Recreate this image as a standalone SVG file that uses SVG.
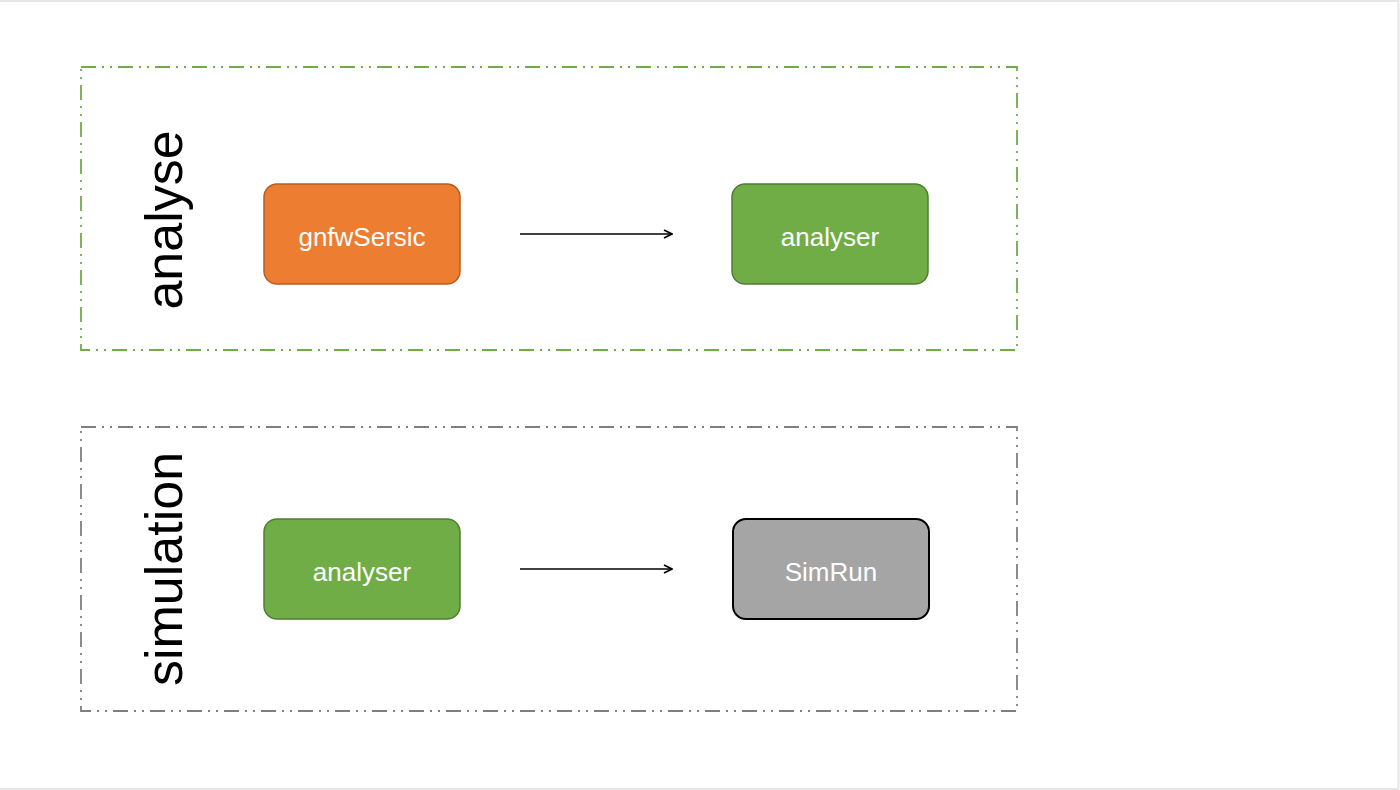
<svg xmlns="http://www.w3.org/2000/svg" width="1400" height="790" viewBox="0 0 1400 790">
  <style>
    .frame { fill: none; stroke: #e6e6e6; stroke-width: 2; }
    .group { fill: none; stroke-width: 1.8; stroke-dasharray: 15 6 2 6 2 6; }
    .group-green { stroke: #70ad47; }
    .group-grey { stroke: #7f7f7f; }
    .group-label { font-family: "Liberation Sans", Arial, sans-serif; font-size: 52px; fill: #000; text-anchor: middle; }
    .node-label { font-family: "Liberation Sans", Arial, sans-serif; font-size: 26px; fill: #ffffff; text-anchor: middle; }
    .orange { fill: #ed7d31; stroke: #b85c20; stroke-width: 1.5; }
    .green { fill: #70ad47; stroke: #507e32; stroke-width: 1.5; }
    .grey { fill: #a5a5a5; stroke: #000000; stroke-width: 2; }
    .edge { stroke: #000; stroke-width: 1.6; fill: none; marker-end: url(#arrow); }
  </style>
  <defs>
    <marker id="arrow" viewBox="0 0 10 10" refX="9" refY="5" markerWidth="10" markerHeight="10" markerUnits="userSpaceOnUse" orient="auto">
      <path d="M1,1 L9,5 L1,9" fill="none" stroke="#000" stroke-width="1.7"/>
    </marker>
  </defs>

  <rect width="1400" height="790" fill="#ffffff"/>
  <path class="frame" d="M0,1 H1398.5 V789 H0"/>

  <!-- analyse group -->
  <g id="group-analyse">
    <rect class="group group-green" x="81" y="67" width="936" height="283"/>
    <text class="group-label" transform="translate(182,220) rotate(-90)">analyse</text>
  </g>

  <!-- simulation group -->
  <g id="group-simulation">
    <rect class="group group-grey" x="81" y="427" width="936" height="284"/>
    <text class="group-label" transform="translate(182,569) rotate(-90)">simulation</text>
  </g>

  <g id="node-gnfwSersic">
    <rect class="orange" x="264" y="184" width="196" height="100" rx="13"/>
    <text class="node-label" x="362" y="246">gnfwSersic</text>
  </g>

  <g id="node-analyser-1">
    <rect class="green" x="732" y="184" width="196" height="100" rx="13"/>
    <text class="node-label" x="830" y="246">analyser</text>
  </g>

  <g id="node-analyser-2">
    <rect class="green" x="264" y="519" width="196" height="100" rx="13"/>
    <text class="node-label" x="362" y="581">analyser</text>
  </g>

  <g id="node-SimRun">
    <rect class="grey" x="733" y="519" width="196" height="100" rx="13"/>
    <text class="node-label" x="831" y="581">SimRun</text>
  </g>

  <g id="connectors">
    <line class="edge" x1="520" y1="234" x2="672" y2="234"/>
    <line class="edge" x1="520" y1="569" x2="672" y2="569"/>
  </g>
</svg>
